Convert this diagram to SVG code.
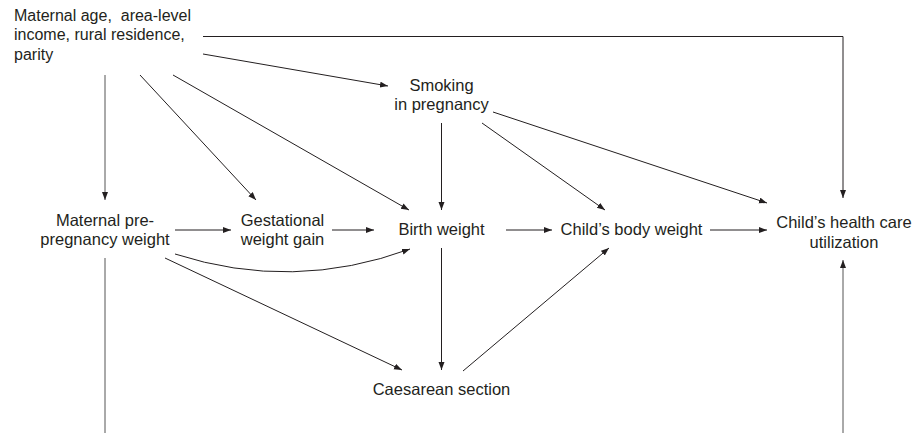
<svg xmlns="http://www.w3.org/2000/svg" width="924" height="433" viewBox="0 0 924 433">
<defs>
<marker id="ah" markerUnits="userSpaceOnUse" markerWidth="9" markerHeight="7" refX="8" refY="3" orient="auto">
<path d="M0,0 L8,3 L0,6 z" fill="#231f20"/>
</marker>
<style>
text{font-family:"Liberation Sans",Arial,sans-serif;font-size:16.5px;fill:#231f20}
.c{text-anchor:middle}
.s{font-size:16px}
.e{fill:none;stroke:#231f20;stroke-width:1}
.a{marker-end:url(#ah)}
.g{stroke:#555}
</style>
</defs>
<rect width="924" height="433" fill="#fff"/>
<g id="connectors">
<path class="e a" d="M203,36.5 H843 V198"/>
<path class="e a" d="M203,54 L388,86"/>
<path class="e a g" d="M105,75 V200"/>
<path class="e a" d="M140,75 L256,200"/>
<path class="e a" d="M173,75 L409,210"/>
<path class="e a" d="M441.5,123 V210"/>
<path class="e a" d="M482,123 L605,210"/>
<path class="e a" d="M493,112 L767,203"/>
<path class="e a" d="M175,230 H231"/>
<path class="e a" d="M332,230 H374"/>
<path class="e a" d="M506,230 H552"/>
<path class="e a" d="M710,230 H767"/>
<path class="e a" d="M175,254 Q293,292 410,249"/>
<path class="e a" d="M165,258 L402,370"/>
<path class="e a" d="M441.5,248 V370"/>
<path class="e a" d="M463,371 L609,248"/>
<path class="e g" d="M105,258 V433"/>
<path class="e a g" d="M843,433 V260"/>
</g>
<g id="confounders">
<text class="s" x="14" y="20.5">Maternal age,&#160; area-level</text>
<text class="s" x="14" y="40">income, rural residence,</text>
<text class="s" x="14" y="59.5">parity</text>
</g>
<g id="smoking">
<text class="c" x="441.5" y="90.5">Smoking</text>
<text class="c" x="441.5" y="110">in pregnancy</text>
</g>
<g id="prepregnancy">
<text class="c" x="105" y="226">Maternal pre-</text>
<text class="c" x="105" y="245">pregnancy weight</text>
</g>
<g id="gestational">
<text class="c" x="282.5" y="226">Gestational</text>
<text class="c" x="282.5" y="245">weight gain</text>
</g>
<g id="birthweight">
<text class="c" x="441.5" y="235">Birth weight</text>
</g>
<g id="childweight">
<text class="c" x="631.5" y="235">Child’s body weight</text>
</g>
<g id="healthcare">
<text class="c" x="844" y="228">Child’s health care</text>
<text class="c" x="844" y="248">utilization</text>
</g>
<g id="caesarean">
<text class="c" x="441.5" y="395">Caesarean section</text>
</g>
</svg>
